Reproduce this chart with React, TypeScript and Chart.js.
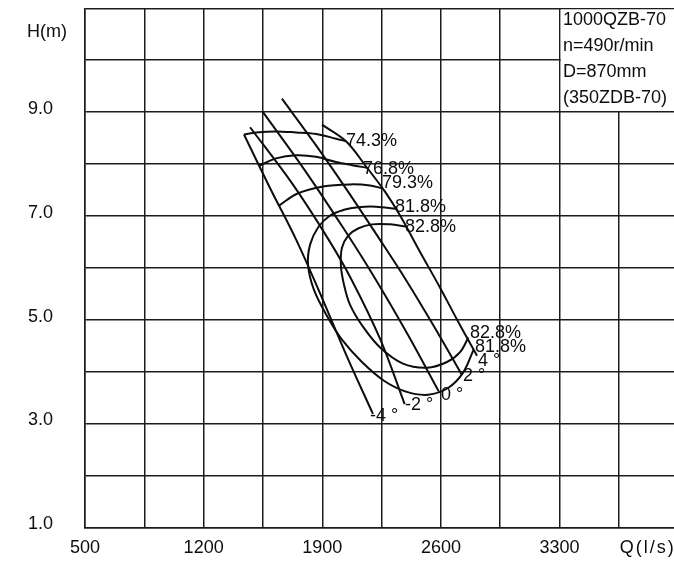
import React, { useEffect, useRef } from 'react';
import { Chart, registerables } from 'chart.js';

Chart.register(...registerables);

// ---- axes ----
const xGridValues = [500, 850, 1200, 1550, 1900, 2250, 2600, 2950, 3300, 3650, 4000];
const xTickLabels = [500, 1200, 1900, 2600, 3300];
const yGridValues = [1, 2, 3, 4, 5, 6, 7, 8, 9, 10, 11];
const yTickLabels = [1, 3, 5, 7, 9];

// ---- blade angle H-Q curves [Q (l/s), H (m)] ----
const bladeM4 = [[1438, 8.57], [1590, 7.55], [1745, 6.55], [1895, 5.45], [2045, 4.3], [2199, 3.19]];
const bladeM2 = [[1474, 8.71], [1726, 7.61], [1931, 6.58], [2072, 5.78], [2243, 4.62], [2386, 3.38]];
const blade0 = [[1548, 9.01], [1793, 7.9], [2030, 6.74], [2215, 5.78], [2406, 4.71], [2588, 3.62]];
const blade2 = [[1662, 9.26], [1859, 8.38], [2048, 7.49], [2233, 6.58], [2392, 5.78], [2564, 4.85], [2724, 3.94]];
const blade4 = [[1898, 8.76], [2040, 8.44], [2164, 7.93], [2270, 7.47], [2359, 7.01], [2477, 6.31], [2595, 5.62], [2701, 4.97], [2813, 4.31]];

// ---- efficiency contours ----
const eff743 = [[1438, 8.57], [1509, 8.61], [1627, 8.63], [1745, 8.61], [1863, 8.58], [1981, 8.49], [2040, 8.44]];
const eff768 = [[1530, 7.97], [1627, 8.11], [1745, 8.17], [1863, 8.14], [1981, 8.04], [2075, 7.98], [2164, 7.93]];
const eff793 = [[1645, 7.2], [1751, 7.43], [1904, 7.57], [2064, 7.61], [2182, 7.59], [2258, 7.53]];
const eff818 = [[2334, 7.14], [2217, 7.18], [2111, 7.17], [2028, 7.12], [1946, 7.01], [1875, 6.78], [1828, 6.45], [1816, 6.06], [1851, 5.58], [1934, 5.04], [2016, 4.62], [2134, 4.19], [2264, 3.83], [2394, 3.62], [2524, 3.56], [2642, 3.69], [2730, 3.98], [2793, 4.43]];
const eff828 = [[2394, 6.8], [2300, 6.84], [2193, 6.84], [2111, 6.76], [2052, 6.62], [2016, 6.39], [2010, 6.04], [2028, 5.68], [2064, 5.29], [2140, 4.87], [2241, 4.47], [2376, 4.16], [2518, 4.08], [2636, 4.19], [2713, 4.38], [2762, 4.66]];

// ---- labels (left edge, vertical centre) ----
const effLabelTexts = ['74.3%', '76.8%', '79.3%', '81.8%', '82.8%', '82.8%', '81.8%'];
const effLabelQ = [2040, 2140, 2252, 2329, 2388, 2772, 2801];
const effLabelH = [8.45, 7.9, 7.63, 7.18, 6.79, 4.75, 4.48];
const angleLabelTexts = ['4 °', '2 °', '0 °', '-2 °', '-4 °'];
const angleLabelQ = [2819, 2730, 2600, 2388, 2182];
const angleLabelH = [4.21, 3.92, 3.56, 3.37, 3.15];
const infoLines = ['1000QZB-70', 'n=490r/min', 'D=870mm', '(350ZDB-70)'];
const infoQ = 3320;
const infoH = [10.78, 10.28, 9.78, 9.28];
const infoBoxQ = [3300, 4000];
const infoBoxH = [9, 11];
const yTitle = 'H(m)';
const xTitle = 'Q(l/s)';

const FONT = '"Liberation Sans", Arial, Helvetica, sans-serif';
const INK = '#0d0d0d';
const GRID = '#1c1c1c';
const FS = 18;

const curves = [bladeM4, bladeM2, blade0, blade2, blade4, eff743, eff768, eff793, eff818, eff828];

const textPlugin = {
  id: 'pumpText',
  beforeDatasetsDraw(chart: any) {
    const { ctx, scales, chartArea } = chart;
    const x = scales.x;
    const y = scales.y;
    const bx0 = x.getPixelForValue(infoBoxQ[0]);
    const bx1 = x.getPixelForValue(infoBoxQ[1]);
    const by0 = y.getPixelForValue(infoBoxH[1]);
    const by1 = y.getPixelForValue(infoBoxH[0]);
    ctx.save();
    ctx.fillStyle = '#fff';
    ctx.fillRect(bx0 + 1.2, by0 + 1.2, bx1 - bx0 + 10, by1 - by0 - 2.4);
    ctx.fillStyle = INK;
    ctx.font = `${FS}px ${FONT}`;
    ctx.textAlign = 'left';
    ctx.textBaseline = 'middle';
    infoLines.forEach((t, i) => {
      ctx.fillText(t, x.getPixelForValue(infoQ), y.getPixelForValue(infoH[i]));
    });
    // tick labels of the axes
    ctx.textAlign = 'center';
    xTickLabels.forEach((v) => {
      ctx.fillText(String(v), x.getPixelForValue(v), chartArea.bottom + 20.5);
    });
    ctx.textAlign = 'right';
    yTickLabels.forEach((v) => {
      ctx.fillText(v.toFixed(1), chartArea.left - 32, y.getPixelForValue(v) - 3.3);
    });
    ctx.textAlign = 'center';
    ctx.fillText(yTitle, chartArea.left - 38, y.getPixelForValue(10.55));
    try { (ctx as any).letterSpacing = '2px'; } catch (e) { /* ignore */ }
    ctx.fillText(xTitle, x.getPixelForValue(3815) + 1, chartArea.bottom + 20.5);
    try { (ctx as any).letterSpacing = '0px'; } catch (e) { /* ignore */ }
    ctx.restore();
  },
  afterDatasetsDraw(chart: any) {
    const { ctx, scales } = chart;
    const x = scales.x;
    const y = scales.y;
    ctx.save();
    ctx.fillStyle = INK;
    ctx.font = `${FS}px ${FONT}`;
    ctx.textAlign = 'left';
    ctx.textBaseline = 'middle';
    effLabelTexts.forEach((t, i) => {
      ctx.fillText(t, x.getPixelForValue(effLabelQ[i]), y.getPixelForValue(effLabelH[i]));
    });
    angleLabelTexts.forEach((t, i) => {
      ctx.fillText(t, x.getPixelForValue(angleLabelQ[i]), y.getPixelForValue(angleLabelH[i]));
    });
    ctx.restore();
  },
};

export default function App() {
  const ref = useRef<HTMLCanvasElement>(null);
  useEffect(() => {
    const canvas = ref.current;
    if (!canvas) return;
    const chart = new Chart(canvas, {
      type: 'scatter',
      data: {
        datasets: curves.map((c) => ({
          data: c.map((p) => ({ x: p[0], y: p[1] })),
          showLine: true,
          pointRadius: 0,
          borderColor: INK,
          borderWidth: 2,
          tension: 0.35,
          fill: false,
        })),
      },
      options: {
        animation: false,
        responsive: false,
        devicePixelRatio: 1,
        layout: { padding: { left: 85, right: 1.8, top: 8.3, bottom: 33.3 }, autoPadding: false },
        plugins: { legend: { display: false }, tooltip: { enabled: false }, title: { display: false } },
        scales: {
          x: {
            type: 'linear',
            min: 500,
            max: 4000,
            afterBuildTicks: (s: any) => { s.ticks = xGridValues.map((v) => ({ value: v })); },
            afterFit: (s: any) => { s.height = 0; },
            grid: { color: GRID, lineWidth: 1.5, drawTicks: false },
            border: { color: GRID, width: 1.5 },
            ticks: { display: false },
          },
          y: {
            type: 'linear',
            min: 1,
            max: 11,
            afterBuildTicks: (s: any) => { s.ticks = yGridValues.map((v) => ({ value: v })); },
            afterFit: (s: any) => { s.width = 0; },
            grid: { color: GRID, lineWidth: 1.5, drawTicks: false },
            border: { color: GRID, width: 1.5 },
            ticks: { display: false },
          },
        },
      },
      plugins: [textPlugin],
    } as any);
    return () => chart.destroy();
  }, []);
  return (
    <div style={{ position: 'fixed', left: 0, top: 0, width: 674, height: 561, overflow: 'hidden', background: '#fff' }}>
      <canvas ref={ref} width={680} height={561} style={{ display: 'block', width: 680, height: 561 }} />
    </div>
  );
}
